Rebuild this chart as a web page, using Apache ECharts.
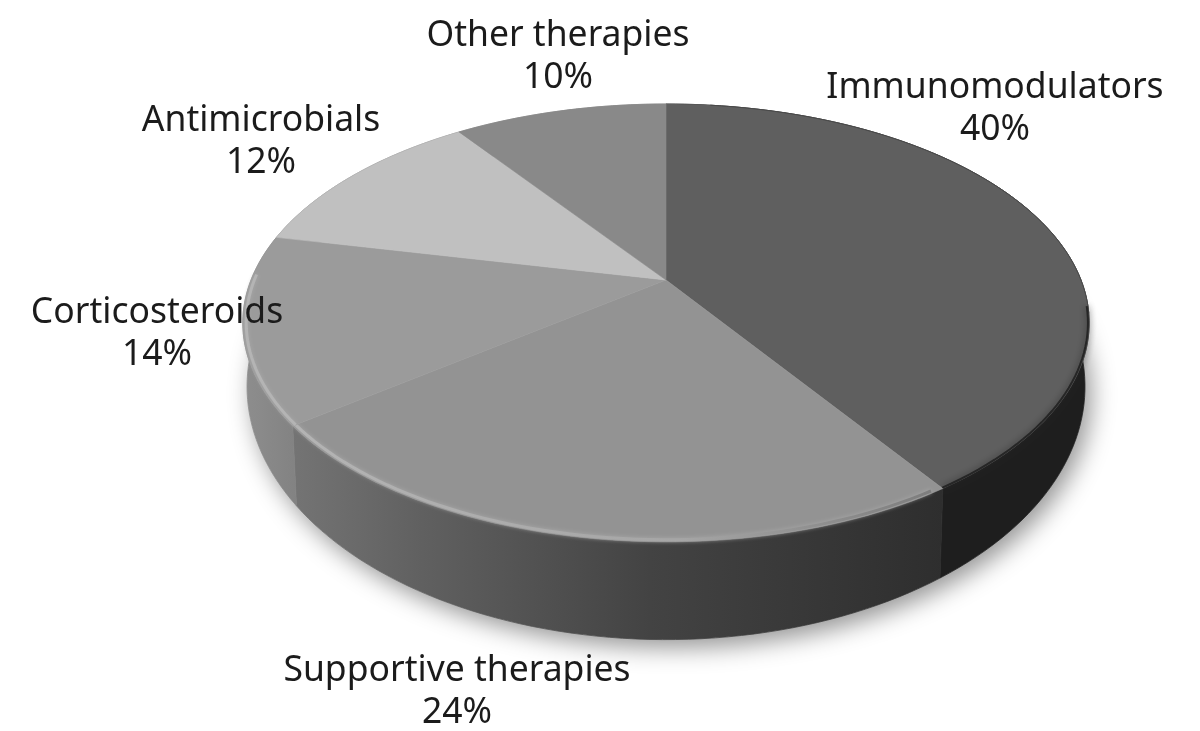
<!DOCTYPE html>
<html>
<head>
<meta charset="utf-8">
<style>html,body{margin:0;padding:0;background:#fff}#c{width:1200px;height:731px}</style>
<script src="https://cdn.jsdelivr.net/npm/echarts@6/dist/echarts.min.js"></script>
</head>
<body>
<div id="c"></div>
<script>
const categories = ['Immunomodulators', 'Supportive therapies', 'Corticosteroids', 'Antimicrobials', 'Other therapies'];
const shares = [40, 24, 14, 12, 10];

// Presentation (separate from the data)
const topColors = ['#5f5f5f', '#939393', '#9b9b9b', '#c0c0c0', '#898989'];
const labelCentres = [[995, 109], [457, 692], [157, 334], [261, 142], [558, 57]];
const G = echarts.graphic;
const wallFills = [
  '#1e1e1e',
  new G.LinearGradient(0, 0, 1, 0, [
    {offset: 0, color: '#747474'}, {offset: 0.2, color: '#606060'},
    {offset: 0.55, color: '#434343'}, {offset: 1, color: '#2e2e2e'}]),
  new G.LinearGradient(0, 0, 1, 0, [{offset: 0, color: '#8e8e8e'}, {offset: 1, color: '#828282'}]),
  '#888', '#888'
];

const total = shares.reduce((s, v) => s + v, 0);
const starts = [];
shares.reduce((s, v, i) => { starts[i] = s; return s + v; }, 0);

// Perspective projection of the disc
const K = -0.196, A = 415, B = 210.5, CX = 666, CY = 280;
const BOTTOM = {cy: 337, b: 243.3, sx: 0.99};
const warp = f => f + 0.006 * Math.sin(Math.PI * f);
function project(frac, scale, base) {
  const t = warp(frac) * 2 * Math.PI, x = Math.sin(t), y = -Math.cos(t), d = 1 + K * y;
  if (base) return [CX + base.sx * A * x / d, base.cy + base.b * y / d];
  return [CX + scale * A * x / d, CY + scale * B * y / d];
}
function arc(f0, f1, scale, base) {
  const n = Math.max(4, Math.ceil((f1 - f0) * 240)), pts = [];
  for (let i = 0; i <= n; i++) pts.push(project(f0 + (f1 - f0) * i / n, scale, base));
  return pts;
}
const frac = i => [starts[i] / total, (starts[i] + shares[i]) / total];
const seriesData = shares.map((v, i) => [v, i]);

const option = {
  animation: false,
  series: [
    { // soft ground shadow
      type: 'custom', coordinateSystem: 'none', silent: true, z: 1,
      data: [[0]],
      renderItem() {
        return { type: 'polygon', shape: {points: arc(0, 1, 1, BOTTOM)},
          style: {fill: '#fff', shadowBlur: 24, shadowColor: 'rgba(0,0,0,0.42)', shadowOffsetX: 6, shadowOffsetY: 8} };
      }
    },
    { // side walls
      type: 'custom', coordinateSystem: 'none', silent: true, z: 2,
      data: seriesData,
      renderItem(p, api) {
        const i = api.value(1), [f0, f1] = frac(i);
        const pts = arc(f0, f1, 1).concat(arc(f0, f1, 1, BOTTOM).reverse());
        return { type: 'polygon', shape: {points: pts},
          style: {fill: wallFills[i], stroke: wallFills[i], lineWidth: 0.8} };
      }
    },
    { // top faces
      type: 'custom', coordinateSystem: 'none', silent: true, z: 3,
      data: seriesData,
      renderItem(p, api) {
        const i = api.value(1), [f0, f1] = frac(i);
        const pts = [[CX, CY]].concat(arc(f0, f1, 1));
        const children = [{ type: 'polygon', shape: {points: pts},
          style: {fill: topColors[i], stroke: topColors[i], lineWidth: 0.6} }];
        if (i === 0) {
          children.push({ type: 'polyline', shape: {points: arc(0.02, 0.27, 1)},
            style: {fill: null, stroke: '#484848', lineWidth: 1} });
          children.push({ type: 'polyline', shape: {points: arc(0.265, f1, 0.997)},
            style: {fill: null, stroke: '#262626', lineWidth: 2, shadowBlur: 7, shadowColor: '#262626'} });
        }
        if (i === 1) {
          children.push({ type: 'polyline', shape: {points: arc(f0 + 0.004, f1, 0.992)},
            style: {fill: null, lineWidth: 3, shadowBlur: 4, shadowColor: '#aaaaaa',
              stroke: new G.LinearGradient(0, 0, 1, 0, [
                {offset: 0, color: '#b4b4b4'}, {offset: 0.6, color: '#a6a6a6'}, {offset: 1, color: '#7d7d7d'}])} });
        }
        if (i === 2) {
          children.push({ type: 'polyline', shape: {points: arc(f0, f1 - 0.03, 0.992)},
            style: {fill: null, stroke: '#b4b4b4', lineWidth: 3, shadowBlur: 4, shadowColor: '#aaaaaa'} });
        }
        return {type: 'group', children};
      }
    },
    { // labels
      type: 'custom', coordinateSystem: 'none', silent: true, z: 5,
      data: seriesData,
      renderItem(p, api) {
        const i = api.value(1);
        return { type: 'text', style: {
          text: categories[i] + '\n' + api.value(0) + '%',
          x: labelCentres[i][0], y: labelCentres[i][1],
          align: 'center', verticalAlign: 'middle',
          font: '35.5px "Noto Sans"', lineHeight: 42, fill: '#1b1b1b'
        } };
      }
    }
  ]
};
echarts.init(document.getElementById('c'), null, {renderer: 'canvas'}).setOption(option);
</script>
</body>
</html>
